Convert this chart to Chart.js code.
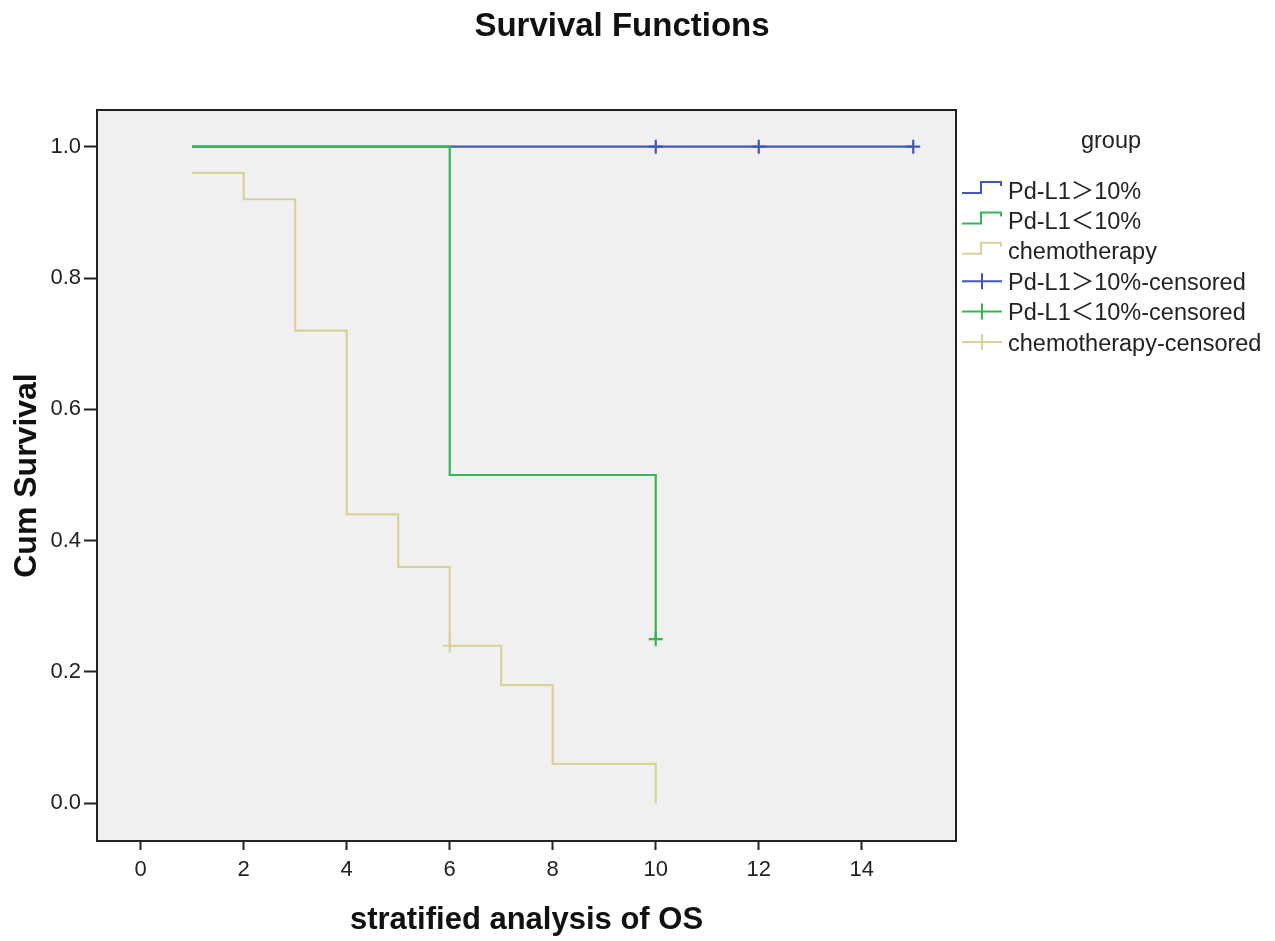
<!DOCTYPE html>
<html>
<head>
<meta charset="utf-8">
<title>Survival Functions</title>
<script src="https://cdn.jsdelivr.net/npm/chart.js@4.4.1/dist/chart.umd.min.js"></script>
<style>
  html, body { margin: 0; padding: 0; background: #fff; }
  canvas { display: block; }
</style>
</head>
<body>
<canvas id="km" width="1275" height="941"></canvas>
<script>
// Kaplan-Meier steps
var highTime = [1, 15];
var highSurv = [1.0, 1.0];
var lowTime = [1, 6, 10];
var lowSurv = [1.0, 0.5, 0.25];
var chemoTime = [1, 2, 3, 4, 5, 6, 7, 8, 10];
var chemoSurv = [0.96, 0.92, 0.72, 0.44, 0.36, 0.24, 0.18, 0.06, 0.0];

// censored marks
var highCensTime = [10, 12, 15];
var highCensSurv = [1.0, 1.0, 1.0];
var lowCensTime = [10];
var lowCensSurv = [0.25];
var chemoCensTime = [6];
var chemoCensSurv = [0.24];

var xTicks = [0, 2, 4, 6, 8, 10, 12, 14];
var yTicks = [0, 0.2, 0.4, 0.6, 0.8, 1.0];

var groupNames = ['Pd-L1\uFF1E10%', 'Pd-L1\uFF1C10%', 'chemotherapy'];
var groupColors = ['#4058b8', '#33b852', '#d8d19a'];

function pts(xs, ys){
    return xs.map(function(x, i){ return { x: x, y: ys[i] }; });
}

var FONT = '"Liberation Sans", Arial, "Noto Sans CJK SC", sans-serif';
var INK = '#222';

function stepSet(label, xs, ys, color, order){
    return {
        label: label, data: pts(xs, ys), borderColor: color, borderWidth: 2.2,
        stepped: 'before', pointRadius: 0, fill: false, order: order
    };
}
function censSet(label, xs, ys, color){
    return {
        label: label, data: pts(xs, ys), showLine: false, pointStyle: 'cross',
        pointRadius: 7, pointBorderWidth: 2.2, pointBorderColor: color,
        borderColor: color, pointHoverRadius: 7, order: 0
    };
}

// grey plot background + frame, title and the SPSS-style legend
var frame = {
    id: 'frame',
    beforeDatasetsDraw: function(chart){
        var a = chart.chartArea, ctx = chart.ctx;
        ctx.save();
        ctx.fillStyle = '#f0f0f0';
        ctx.fillRect(a.left, a.top, a.right - a.left, a.bottom - a.top);
        ctx.restore();
    },
    afterDraw: function(chart){
        var a = chart.chartArea, ctx = chart.ctx;
        ctx.save();
        ctx.strokeStyle = INK;
        ctx.lineWidth = 2;
        ctx.strokeRect(a.left, a.top, a.right - a.left, a.bottom - a.top);

        ctx.fillStyle = '#111';
        ctx.textBaseline = 'alphabetic';
        ctx.textAlign = 'center';
        ctx.font = 'bold 33px ' + FONT;
        ctx.fillText('Survival Functions', 622, 36);

        ctx.fillStyle = INK;
        ctx.font = '23.5px ' + FONT;
        ctx.fillText('group', 1111, 148);

        ctx.textAlign = 'left';
        var rows = [];
        groupNames.forEach(function(n, i){ rows.push({ text: n, color: groupColors[i], step: true }); });
        groupNames.forEach(function(n, i){ rows.push({ text: n + '-censored', color: groupColors[i], step: false }); });
        rows.forEach(function(r, i){
            var cy = 190 + i * 30.4;
            ctx.strokeStyle = r.color;
            ctx.lineWidth = 2;
            ctx.beginPath();
            if (r.step) {
                ctx.moveTo(962, cy + 3);
                ctx.lineTo(981, cy + 3);
                ctx.lineTo(981, cy - 8);
                ctx.lineTo(1001, cy - 8);
                ctx.lineTo(1001, cy - 4);
            } else {
                ctx.moveTo(962, cy);
                ctx.lineTo(1002, cy);
                ctx.moveTo(982, cy - 8);
                ctx.lineTo(982, cy + 8);
            }
            ctx.stroke();
            ctx.fillStyle = INK;
            ctx.fillText(r.text, 1008, cy + 8.5);
        });
        ctx.restore();
    }
};

new Chart(document.getElementById('km'), {
    type: 'line',
    data: {
        datasets: [
            stepSet(groupNames[1], lowTime, lowSurv, groupColors[1], 1),
            stepSet(groupNames[0], highTime, highSurv, groupColors[0], 2),
            stepSet(groupNames[2], chemoTime, chemoSurv, groupColors[2], 3),
            censSet(groupNames[0] + '-censored', highCensTime, highCensSurv, groupColors[0]),
            censSet(groupNames[1] + '-censored', lowCensTime, lowCensSurv, groupColors[1]),
            censSet(groupNames[2] + '-censored', chemoCensTime, chemoCensSurv, groupColors[2])
        ]
    },
    options: {
        responsive: false,
        animation: false,
        layout: { padding: { top: 110, right: 319, bottom: 0, left: 0 } },
        plugins: { legend: { display: false }, tooltip: { enabled: false }, title: { display: false } },
        scales: {
            x: {
                type: 'linear', min: -0.849, max: 15.83,
                afterFit: function(s){ s.height = 100; },
                afterBuildTicks: function(s){ s.ticks = xTicks.map(function(v){ return { value: v }; }); },
                grid: { drawOnChartArea: false, drawTicks: true, tickLength: 9, tickWidth: 2, tickColor: INK },
                border: { display: true, color: INK, width: 2 },
                ticks: { color: INK, font: { family: FONT, size: 22 }, padding: 7, maxRotation: 0 },
                title: { display: true, text: 'stratified analysis of OS', color: '#111',
                         font: { family: FONT, size: 31, weight: 'bold' }, padding: { top: 0, bottom: 2 } }
            },
            y: {
                type: 'linear', min: -0.0574, max: 1.0559,
                afterFit: function(s){ s.width = 97; },
                afterBuildTicks: function(s){ s.ticks = yTicks.map(function(v){ return { value: v }; }); },
                grid: { drawOnChartArea: false, drawTicks: true, tickLength: 13, tickWidth: 2, tickColor: INK },
                border: { display: true, color: INK, width: 2 },
                ticks: { color: INK, font: { family: FONT, size: 22 }, padding: 3,
                         callback: function(v){ return v.toFixed(1); } },
                title: { display: true, text: 'Cum Survival', color: '#111',
                         font: { family: FONT, size: 32, weight: 'bold' }, padding: { top: 8, bottom: 0 } }
            }
        }
    },
    plugins: [frame]
});
</script>
</body>
</html>
